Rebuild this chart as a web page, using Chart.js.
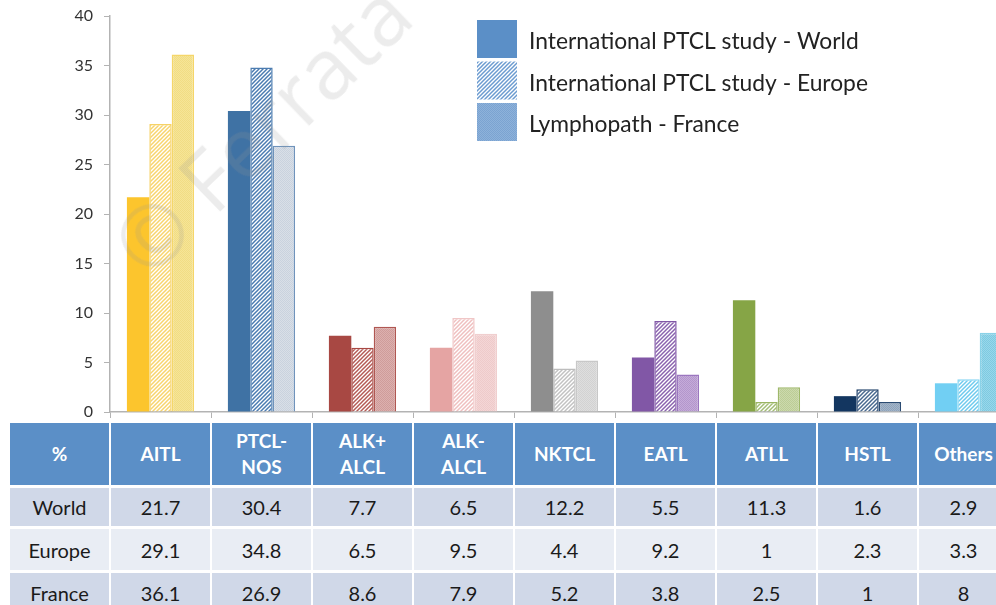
<!DOCTYPE html>
<html>
<head>
<meta charset="utf-8">
<script src="https://cdn.jsdelivr.net/npm/chart.js@4.4.1/dist/chart.umd.min.js"></script>
<style>
  html, body { margin: 0; padding: 0; background: #fff; overflow: hidden; width: 996px; height: 605px; }
  #wrap { position: absolute; left: 0; top: 0; width: 1030px; height: 420px; }
  #tbl { position: absolute; left: 8px; top: 420px; width: 1002px; border-collapse: separate; border-spacing: 2px 3px;
         font-family: Lato, "Open Sans", sans-serif; table-layout: fixed; }
  #tbl col { width: 99px; }
  #tbl col.last { width: 89px; }
  #tbl td { padding: 0; text-align: center; vertical-align: middle; font-size: 20px; color: #1a1a1a; }
  #tbl tr.head td { background: #5b8fc7; color: #fff; font-weight: bold; font-size: 19px; height: 62px; line-height: 26px; }
  #tbl tr.r0 td { background: #d0d8e8; height: 38px; }
  #tbl tr.r1 td { background: #e9edf4; height: 41px; }
  #tbl tr.r2 td { background: #d0d8e8; height: 40px; }
  #wm { position: absolute; left: 126px; top: 196px; font-family: "Open Sans", sans-serif; font-size: 84px; line-height: 124px;
        color: rgba(150,150,150,0.18); transform-origin: 0 50%; transform: rotate(-44deg); white-space: nowrap; pointer-events: none; }
</style>
</head>
<body>
<div id="wrap"><canvas id="barChart" width="1030" height="420"></canvas></div>
<table id="tbl"></table>
<div id="wm">© Ferrata</div>
<script>
// Chart data
const categories = ['AITL', 'PTCL-NOS', 'ALK+ ALCL', 'ALK- ALCL', 'NKTCL', 'EATL', 'ATLL', 'HSTL', 'Others'];
const headerLabels = ['AITL', 'PTCL-<br>NOS', 'ALK+<br>ALCL', 'ALK-<br>ALCL', 'NKTCL', 'EATL', 'ATLL', 'HSTL', 'Others'];
const seriesNames = ['International PTCL study - World', 'International PTCL study - Europe', 'Lymphopath - France'];
const rowNames = ['World', 'Europe', 'France'];
const worldValues = [21.7, 30.4, 7.7, 6.5, 12.2, 5.5, 11.3, 1.6, 2.9];
const europeValues = [29.1, 34.8, 6.5, 9.5, 4.4, 9.2, 1, 2.3, 3.3];
const franceValues = [36.1, 26.9, 8.6, 7.9, 5.2, 3.8, 2.5, 1, 8];
const yTicks = [0, 5, 10, 15, 20, 25, 30, 35, 40];

// per category: solid, europe stripe, europe border, france a, france b, france border
const palette = [
    ['#fcc52d', '#f8d46c', '#f6d266', '#f6e597', '#f1dc84', '#f5d66a'],
    ['#3f72a4', '#4a7bb1', '#4c7cb0', '#d9dfe7', '#c9d2de', '#6f93bb'],
    ['#a84843', '#b45a55', '#a84843', '#dcb0ae', '#cf9c9a', '#b05752'],
    ['#e5a4a3', '#efbfbf', '#f0c6c6', '#f4d6d6', '#eecaca', '#f0cfcf'],
    ['#8e8e8e', '#c2c2c2', '#bdbdbd', '#dedede', '#d2d2d2', '#c8c8c8'],
    ['#8157a6', '#8a62ae', '#8157a6', '#c5abd9', '#b396cc', '#9b76bf'],
    ['#86a546', '#a3bd74', '#9ab562', '#ccd9ad', '#bccd96', '#9fb86b'],
    ['#133660', '#48698f', '#1e3f68', '#a3b5c9', '#8ea3bb', '#2b4b72'],
    ['#71cff3', '#6ecaee', '#86d5f2', '#97d8eb', '#7fc9e0', '#8ad2e8']
];
const legendColors = ['#5b8fc7', '#6b9bd0', '#8eb2da', '#7ba3d1'];

function stripes(fg) {
    const c = document.createElement('canvas');
    c.width = 4; c.height = 4;
    const g = c.getContext('2d');
    g.fillStyle = '#fff';
    g.fillRect(0, 0, 4, 4);
    g.strokeStyle = fg;
    g.lineWidth = 1.5;
    [[-1, 1, 1, -1], [0, 4, 4, 0], [3, 5, 5, 3]].forEach(l => {
        g.beginPath(); g.moveTo(l[0], l[1]); g.lineTo(l[2], l[3]); g.stroke();
    });
    return g.createPattern(c, 'repeat');
}

function checker(a, b) {
    const c = document.createElement('canvas');
    c.width = 2; c.height = 2;
    const g = c.getContext('2d');
    g.fillStyle = a; g.fillRect(0, 0, 2, 2);
    g.fillStyle = b; g.fillRect(0, 0, 1, 1); g.fillRect(1, 1, 1, 1);
    return g.createPattern(c, 'repeat');
}

const legendFills = [legendColors[0], stripes(legendColors[1]), checker(legendColors[2], legendColors[3])];

const legendPlugin = {
    id: 'boxLegend',
    afterDraw(chart) {
        const ctx = chart.ctx;
        ctx.save();
        ctx.font = '22.8px Lato, "Open Sans", sans-serif';
        ctx.textBaseline = 'middle';
        chart.data.datasets.forEach((ds, i) => {
            const y = 20 + i * 41.5;
            ctx.fillStyle = legendFills[i];
            ctx.fillRect(477, y, 40, 38);
            ctx.fillStyle = '#222';
            ctx.fillText(ds.label, 529, y + 22);
        });
        ctx.restore();
    }
};

const ctx = document.getElementById('barChart').getContext('2d');
const chart = new Chart(ctx, {
    type: 'bar',
    data: {
        labels: categories,
        datasets: [{
            label: seriesNames[0],
            data: worldValues,
            backgroundColor: palette.map(p => p[0]),
            borderWidth: 0
        }, {
            label: seriesNames[1],
            data: europeValues,
            backgroundColor: palette.map(p => stripes(p[1])),
            borderColor: palette.map(p => p[2]),
            borderWidth: 1.5
        }, {
            label: seriesNames[2],
            data: franceValues,
            backgroundColor: palette.map(p => checker(p[3], p[4])),
            borderColor: palette.map(p => p[5]),
            borderWidth: 1.5
        }]
    },
    options: {
        responsive: false,
        animation: false,
        maintainAspectRatio: false,
        layout: { padding: { top: 16, right: 11, left: 0, bottom: 0 } },
        datasets: { bar: { categoryPercentage: 0.665, barPercentage: 1.0 } },
        scales: {
            x: {
                offset: true,
                ticks: { display: false },
                grid: { drawOnChartArea: false, drawTicks: true, tickLength: 6, color: '#b3b3b3', offset: true },
                border: { color: '#b3b3b3', width: 1.5 },
                afterFit(scale) { scale.height = 8; scale.paddingLeft = 0; scale.paddingRight = 0; }
            },
            y: {
                min: 0,
                max: 40,
                afterBuildTicks(scale) { scale.ticks = yTicks.map(v => ({ value: v })); },
                ticks: { padding: 11, color: '#333', font: { family: 'Lato, "Open Sans", sans-serif', size: 16 } },
                grid: { drawOnChartArea: false, drawTicks: true, tickLength: 6, color: '#b3b3b3' },
                border: { color: '#b3b3b3', width: 1.5 },
                afterFit(scale) { scale.width = 110; scale.paddingTop = 0; scale.paddingBottom = 0; }
            }
        },
        plugins: {
            legend: { display: false },
            tooltip: { enabled: false }
        }
    },
    plugins: [legendPlugin]
});

// Table below the chart
const tbl = document.getElementById('tbl');
let html = '<colgroup>' + '<col>'.repeat(categories.length) + '<col class="last"></colgroup>';
html += '<tr class="head"><td>%</td>' + headerLabels.map(h => '<td>' + h + '</td>').join('') + '</tr>';
[worldValues, europeValues, franceValues].forEach((vals, i) => {
    html += '<tr class="r' + i + '"><td>' + rowNames[i] + '</td>' + vals.map(v => '<td>' + v + '</td>').join('') + '</tr>';
});
tbl.innerHTML = html;
</script>
</body>
</html>
